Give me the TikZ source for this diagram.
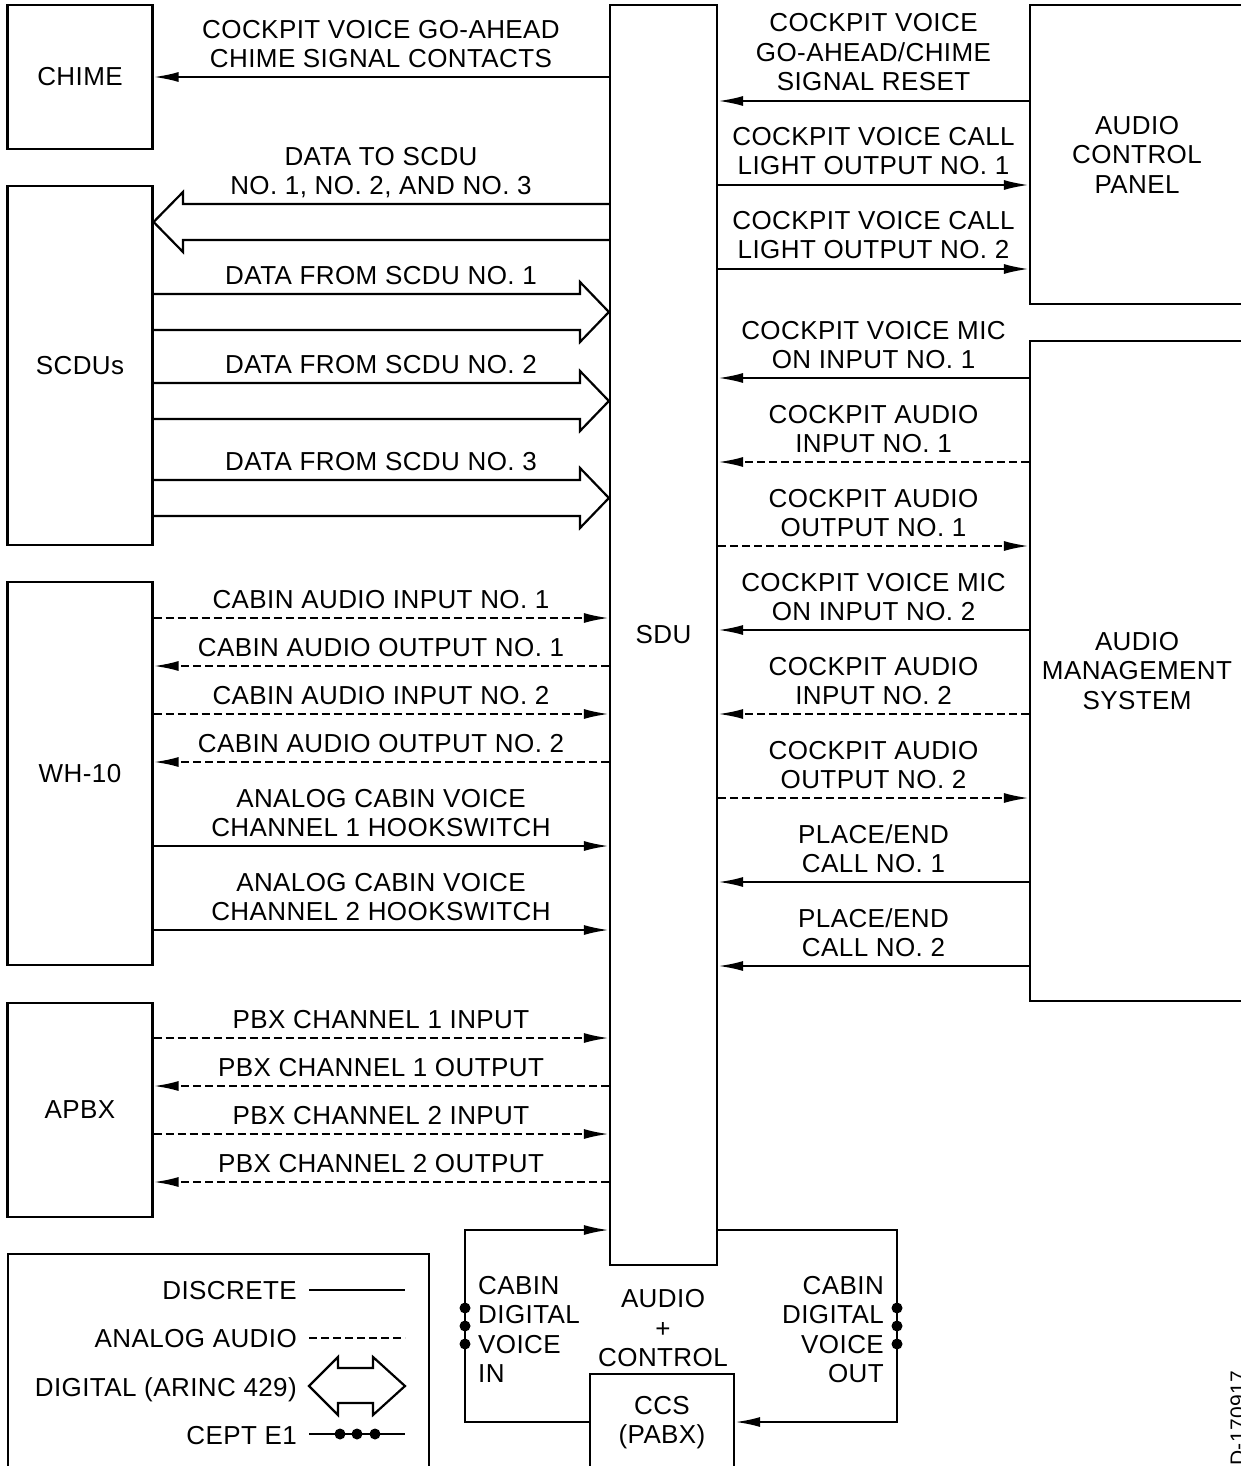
\documentclass[tikz,border=0pt]{standalone}
\usepackage{fontspec}
\setmainfont[LetterSpace=1.6]{Liberation Sans}
\usetikzlibrary{arrows.meta}
\begin{document}
\begin{tikzpicture}[x=1pt,y=-1pt,
  lw/.style={line width=2.2pt},
  box/.style={draw,lw,rectangle,inner sep=0pt,align=center,font=\fontsize{26}{29.5}\selectfont},
  lbl/.style={inner sep=0pt,align=center,text depth=0pt,font=\fontsize{26}{29.5}\selectfont},
  arr/.style={lw,-{Latex[length=25pt,width=10pt]}},
  dsh/.style={dash pattern=on 8pt off 4pt},
  dig/.style={lw,line join=miter},
  dotc/.style={circle,fill,inner sep=0pt,minimum size=11pt}
]
\useasboundingbox (0,0) rectangle (1241,1466);
\clip (0,0) rectangle (1241,1466);
\fill[white] (0,0) rectangle (1241,1466);

% boxes
\node[box,minimum width=145,minimum height=144] (chime) at (80,77) {CHIME};
\node[box,minimum width=145,minimum height=359] (scdu) at (80,365.5) {SCDUs};
\node[box,minimum width=145,minimum height=383] (wh) at (80,773.5) {WH-10};
\node[box,minimum width=145,minimum height=214] (apbx) at (80,1110) {APBX};
\node[draw,lw,rectangle,inner sep=0pt,minimum width=421,minimum height=230] (leg) at (218.5,1369) {};
\node[box,minimum width=107,minimum height=1260] (sdu) at (663.5,635) {SDU};
\node[box,minimum width=214,minimum height=299] (acp) at (1137,154.5) {AUDIO\\CONTROL\\PANEL};
\node[box,minimum width=214,minimum height=660] (ams) at (1137,671) {AUDIO\\MANAGEMENT\\SYSTEM};
\node[draw,lw,rectangle,inner sep=0pt,minimum width=144,minimum height=110] (ccs) at (662,1429) {};
\node[lbl,anchor=south] (ccst) at (662,1444) {CCS\\(PABX)};

% left side connections
\draw[arr] (sdu.west|-0,77) -- (chime.east|-0,77);
\node[lbl,anchor=south] (t1) at (381,68) {COCKPIT VOICE GO-AHEAD\\CHIME SIGNAL CONTACTS};

\draw[dig] (sdu.west|-0,204) -- (183,204) -- (183,192) -- (scdu.east|-0,222) -- (183,252) -- (183,240) -- (sdu.west|-0,240);
\node[lbl,anchor=south] (t2) at (381,195) {DATA TO SCDU\\NO. 1, NO. 2, AND NO. 3};

\foreach \y/\n in {312/1,401/2,498/3}{
  \draw[dig] (scdu.east|-0,\y-18) -- (580,\y-18) -- (580,\y-30) -- (sdu.west|-0,\y) -- (580,\y+30) -- (580,\y+18) -- (scdu.east|-0,\y+18);
}
\node[lbl,anchor=south] (t3) at (381,285) {DATA FROM SCDU NO. 1};
\node[lbl,anchor=south] (t4) at (381,374) {DATA FROM SCDU NO. 2};
\node[lbl,anchor=south] (t5) at (381,471) {DATA FROM SCDU NO. 3};

\draw[arr,dsh] (wh.east|-0,618) -- (sdu.west|-0,618);
\node[lbl,anchor=south] (t6) at (381,609) {CABIN AUDIO INPUT NO. 1};
\draw[arr,dsh] (sdu.west|-0,666) -- (wh.east|-0,666);
\node[lbl,anchor=south] (t7) at (381,657) {CABIN AUDIO OUTPUT NO. 1};
\draw[arr,dsh] (wh.east|-0,714) -- (sdu.west|-0,714);
\node[lbl,anchor=south] (t8) at (381,705) {CABIN AUDIO INPUT NO. 2};
\draw[arr,dsh] (sdu.west|-0,762) -- (wh.east|-0,762);
\node[lbl,anchor=south] (t9) at (381,753) {CABIN AUDIO OUTPUT NO. 2};
\draw[arr] (wh.east|-0,846) -- (sdu.west|-0,846);
\node[lbl,anchor=south] (t10) at (381,837) {ANALOG CABIN VOICE\\CHANNEL 1 HOOKSWITCH};
\draw[arr] (wh.east|-0,930) -- (sdu.west|-0,930);
\node[lbl,anchor=south] (t11) at (381,921) {ANALOG CABIN VOICE\\CHANNEL 2 HOOKSWITCH};

\draw[arr,dsh] (apbx.east|-0,1038) -- (sdu.west|-0,1038);
\node[lbl,anchor=south] (t12) at (381,1029) {PBX CHANNEL 1 INPUT};
\draw[arr,dsh] (sdu.west|-0,1086) -- (apbx.east|-0,1086);
\node[lbl,anchor=south] (t13) at (381,1077) {PBX CHANNEL 1 OUTPUT};
\draw[arr,dsh] (apbx.east|-0,1134) -- (sdu.west|-0,1134);
\node[lbl,anchor=south] (t14) at (381,1125) {PBX CHANNEL 2 INPUT};
\draw[arr,dsh] (sdu.west|-0,1182) -- (apbx.east|-0,1182);
\node[lbl,anchor=south] (t15) at (381,1173) {PBX CHANNEL 2 OUTPUT};

% right side connections
\draw[arr] (acp.west|-0,101) -- (sdu.east|-0,101);
\node[lbl,anchor=south] (r1) at (873.5,91) {COCKPIT VOICE\\GO-AHEAD/CHIME\\SIGNAL RESET};
\draw[arr] (sdu.east|-0,185) -- (acp.west|-0,185);
\node[lbl,anchor=south] (r2) at (873.5,175) {COCKPIT VOICE CALL\\LIGHT OUTPUT NO. 1};
\draw[arr] (sdu.east|-0,269) -- (acp.west|-0,269);
\node[lbl,anchor=south] (r3) at (873.5,259) {COCKPIT VOICE CALL\\LIGHT OUTPUT NO. 2};
\draw[arr] (ams.west|-0,378) -- (sdu.east|-0,378);
\node[lbl,anchor=south] (r4) at (873.5,369) {COCKPIT VOICE MIC\\ON INPUT NO. 1};
\draw[arr,dsh] (ams.west|-0,462) -- (sdu.east|-0,462);
\node[lbl,anchor=south] (r5) at (873.5,453) {COCKPIT AUDIO\\INPUT NO. 1};
\draw[arr,dsh] (sdu.east|-0,546) -- (ams.west|-0,546);
\node[lbl,anchor=south] (r6) at (873.5,537) {COCKPIT AUDIO\\OUTPUT NO. 1};
\draw[arr] (ams.west|-0,630) -- (sdu.east|-0,630);
\node[lbl,anchor=south] (r7) at (873.5,621) {COCKPIT VOICE MIC\\ON INPUT NO. 2};
\draw[arr,dsh] (ams.west|-0,714) -- (sdu.east|-0,714);
\node[lbl,anchor=south] (r8) at (873.5,705) {COCKPIT AUDIO\\INPUT NO. 2};
\draw[arr,dsh] (sdu.east|-0,798) -- (ams.west|-0,798);
\node[lbl,anchor=south] (r9) at (873.5,789) {COCKPIT AUDIO\\OUTPUT NO. 2};
\draw[arr] (ams.west|-0,882) -- (sdu.east|-0,882);
\node[lbl,anchor=south] (r10) at (873.5,873) {PLACE/END\\CALL NO. 1};
\draw[arr] (ams.west|-0,966) -- (sdu.east|-0,966);
\node[lbl,anchor=south] (r11) at (873.5,957) {PLACE/END\\CALL NO. 2};

% bottom loop
\draw[arr,line join=miter] (ccs.west|-0,1422) -- (465,1422) -- (465,1230) -- (sdu.west|-0,1230);
\draw[arr,line join=miter] (sdu.east|-0,1230) -- (897,1230) -- (897,1422) -- (ccs.east|-0,1422);
\foreach \y in {1308,1326,1344}{
  \node[dotc] at (465,\y) {};
  \node[dotc] at (897,\y) {};
}
\node[lbl,anchor=south west,align=left] (b1) at (478,1383) {CABIN\\DIGITAL\\VOICE\\IN};
\node[lbl,anchor=south] (b2) at (663,1367) {AUDIO\\+\\CONTROL};
\node[lbl,anchor=south east,align=right] (b3) at (884,1383) {CABIN\\DIGITAL\\VOICE\\OUT};

% legend
\node[lbl,anchor=base east] (g1) at (297,1299) {DISCRETE};
\node[lbl,anchor=base east] (g2) at (297,1347) {ANALOG AUDIO};
\node[lbl,anchor=base east] (g3) at (297,1396) {DIGITAL (ARINC 429)};
\node[lbl,anchor=base east] (g4) at (297,1444) {CEPT E1};
\coordinate (ga) at (309,1290); \coordinate (gb) at (405,1290);
\draw[lw] (ga) -- (gb);
\coordinate (gc) at (309,1338); \coordinate (gd) at (405,1338);
\draw[lw,dsh] (gc) -- (gd);
\draw[dig] (309,1386) -- (338,1357) -- (338,1368) -- (373,1368) -- (373,1357) -- (405,1386) -- (373,1415) -- (373,1403) -- (338,1403) -- (338,1415) -- cycle;
\coordinate (ge) at (309,1434); \coordinate (gf) at (405,1434);
\draw[lw] (ge) -- (gf);
\foreach \x in {340,357,375}{ \node[dotc] at (\x,1434) {}; }

% drawing number
\node[inner sep=0pt,anchor=base west,rotate=90,font=\fontsize{21}{24}\selectfont] (dn) at (1245,1466) {D-170917};
\end{tikzpicture}
\end{document}
